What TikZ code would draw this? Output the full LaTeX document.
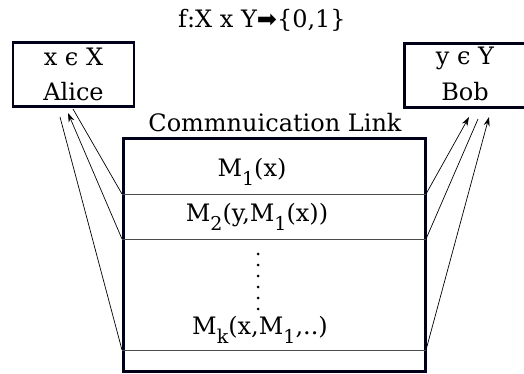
\documentclass[tikz,border=0pt]{standalone}
\usepackage{fontspec}
\setmainfont{DejaVu Serif}
\newfontfamily\symfont{DejaVu Sans}
\usetikzlibrary{arrows.meta}
\newcommand{\lowidx}[1]{\raisebox{-0.4em}{\fontsize{19}{19}\selectfont #1}}
\tikzset{
  party/.style={draw=black!90!blue, line width=2.5pt, minimum width=121pt, minimum height=64pt, inner sep=0pt},
  linkbox/.style={draw=black!90!blue, line width=3pt, minimum width=302pt, minimum height=232pt, inner sep=0pt},
  msg/.style={line width=0.7pt},
  divider/.style={line width=0.7pt, black!70},
  lbl/.style={inner sep=0pt, font=\fontsize{24}{28}\selectfont}
}
\begin{document}
\begin{tikzpicture}[x=1pt, y=-1pt]
    \useasboundingbox (0,0) rectangle (524,374);
    \node [lbl] (title) at (262,20) {f:X x Y{\symfont ➡}\{0,1\}};
    % the two parties
    \node [party] (alice) at (73.5,74.5) {};
    \node [lbl] (aliceset) at (73.5,57) {x ϵ X};
    \node [lbl] (alicename) at (73.5,92) {Alice};
    \node [party] (bob) at (465,75.5) {};
    \node [lbl] (bobset) at (465,58) {y ϵ Y};
    \node [lbl] (bobname) at (465,92) {Bob};
    % the link and its messages
    \node [lbl] (linkname) at (275,123) {Commnuication Link};
    \node [linkbox] (link) at (274,255) {};
    \coordinate (d1w) at (122,194); \coordinate (d1e) at (426,194);
    \coordinate (d2w) at (122,239); \coordinate (d2e) at (426,239);
    \coordinate (d3w) at (122,350); \coordinate (d3e) at (426,350);
    \draw [divider] (d1w) -- (d1e);
    \draw [divider] (d2w) -- (d2e);
    \draw [divider] (d3w) -- (d3e);
    \node [lbl] (m1) at (252,172) {M\lowidx{1}(x)};
    \node [lbl] (m2) at (257,217) {M\lowidx{2}(y,M\lowidx{1}(x))};
    \foreach \k in {0,...,5}
      \fill (258,254+11*\k) circle (1.5pt);
    \node [lbl] (mk) at (260,330) {M\lowidx{k}(x,M\lowidx{1},..)};
    % ends near the parties
    \coordinate (a1) at (73,109);
    \coordinate (a2) at (68,113);
    \coordinate (a3) at (60,117);
    \coordinate (b1) at (469,117);
    \coordinate (b2) at (478,119);
    \coordinate (b3) at (489,117);
    \draw [msg] (d1w) -- (a1);
    \draw [msg, -{Stealth[length=9pt,width=6pt]}] (d2w) -- (a2);
    \draw [msg] (d3w) -- (a3);
    \draw [msg, -{Stealth[length=9pt,width=6pt]}] (d1e) -- (b1);
    \draw [msg] (d2e) -- (b2);
    \draw [msg, -{Stealth[length=9pt,width=6pt]}] (d3e) -- (b3);
\end{tikzpicture}
\end{document}
